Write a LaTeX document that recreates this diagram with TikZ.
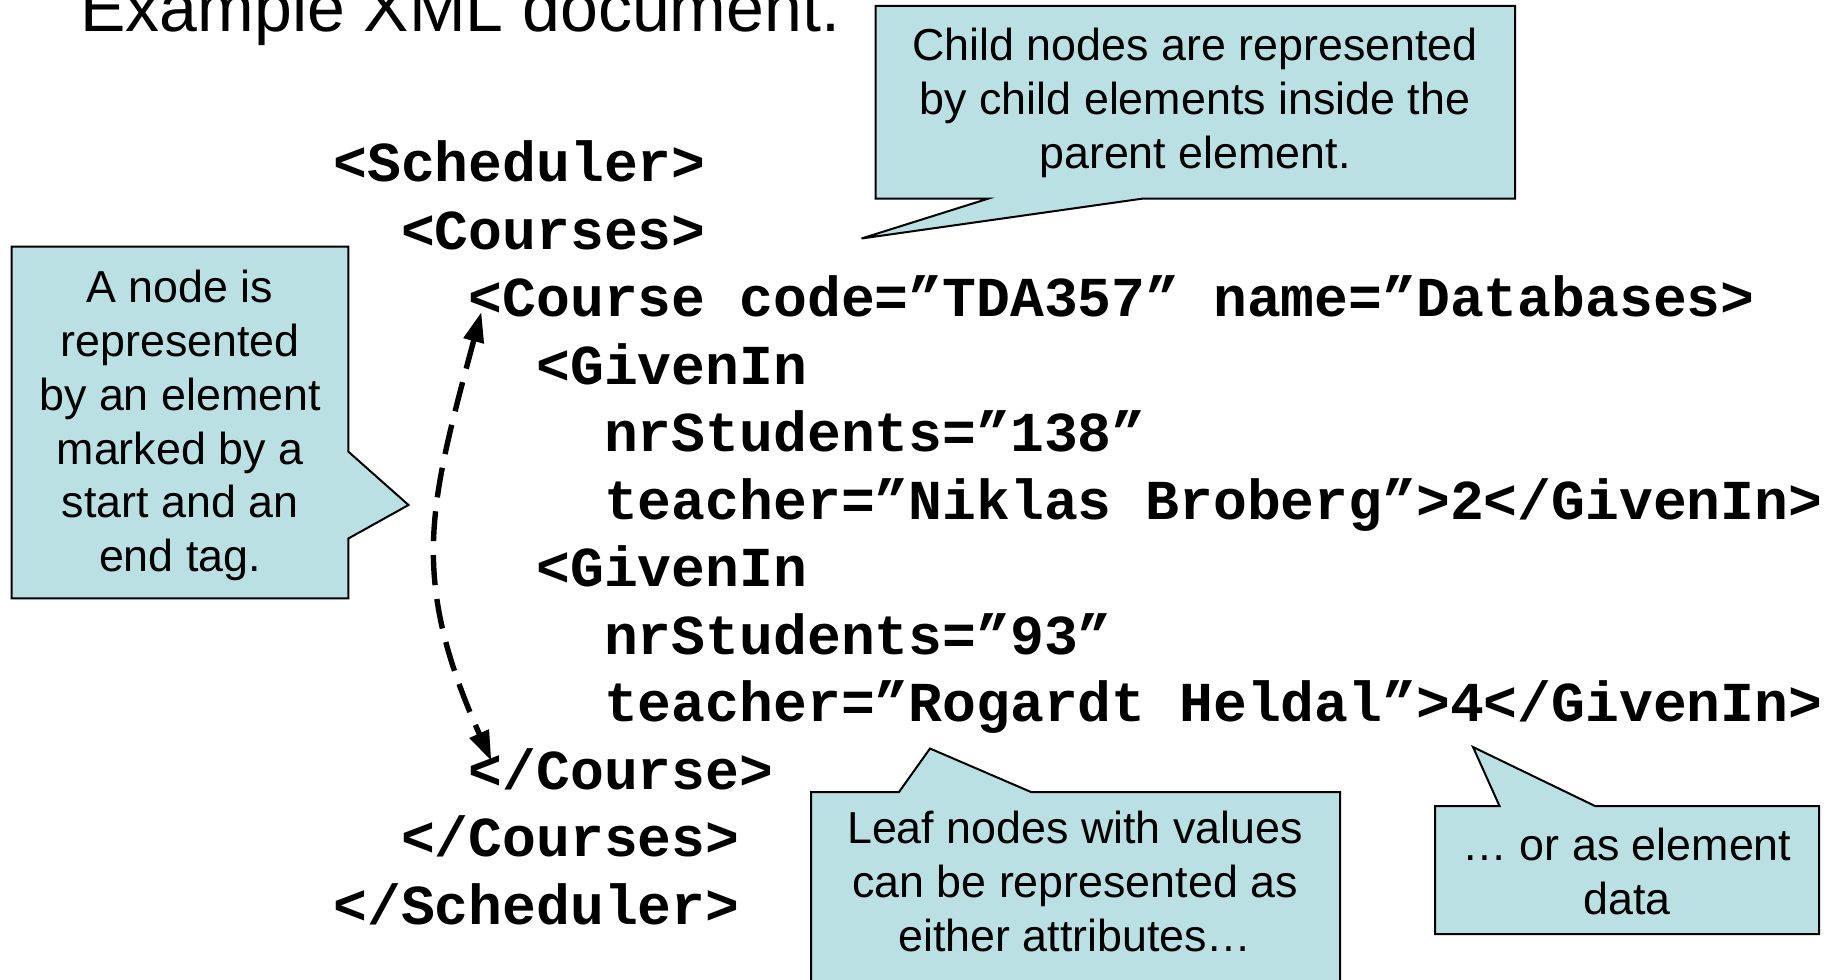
\documentclass[tikz,border=0pt]{standalone}
\usepackage{fontspec}
\setmainfont{Liberation Sans}
\setmonofont{Liberation Mono}
\usetikzlibrary{
    arrows.meta
}

\definecolor{bubblefill}{RGB}{187,224,227}
\newcommand{\xmlfont}{\ttfamily\bfseries\fontsize{28.2}{33.8}\selectfont}
\newcommand{\bubblefont}{\fontsize{22.4}{26.9}\selectfont}
\newcommand{\slidetitlefont}{\fontsize{34}{40}\selectfont}

\begin{document}
\begin{tikzpicture}[
    x=0.5pt, y=-0.5pt,
    xmlline/.style={anchor=base west, inner sep=0, font=\xmlfont},
    bubble/.style={draw=black, line width=1pt, fill=bubblefill, line join=miter},
    bubbletext/.style={anchor=base, align=center, inner sep=0, font=\bubblefont},
    tagarrow/.style={{Triangle[length=15pt,width=10pt]}-{Triangle[length=15pt,width=10pt]},
        line width=2.7pt, dash pattern=on 15pt off 7pt}
]
\clip (0,0) rectangle (1833,980);

% Slide title (cut at the top)
\node[anchor=base west, inner sep=0, font=\slidetitlefont] (title) at (80,31.5) {Example XML document.};

% Callout shapes
\draw[bubble] (875.6,5.8) -- (1515,5.8) -- (1515,198.7) -- (1142,198.7)
    -- (861.5,238.5) -- (988,198.7) -- (875.6,198.7) -- cycle;
\draw[bubble] (11.7,246.7) -- (348.4,246.7) -- (348.4,451.7) -- (408.5,505)
    -- (348.4,538.5) -- (348.4,598.4) -- (11.7,598.4) -- cycle;
\draw[bubble] (811,792) -- (899,792) -- (930,748.5) -- (1031,792)
    -- (1340,792) -- (1340,1000) -- (811,1000) -- cycle;
\draw[bubble] (1435,806) -- (1499.5,806) -- (1473,747) -- (1595,806)
    -- (1819,806) -- (1819,934) -- (1435,934) -- cycle;

% Callout texts (base = last line)
\node[bubbletext] (childtxt) at (1195,168.3) {Child nodes are represented\\by child elements inside the\\parent element.};
\node[bubbletext] (nodetxt) at (180,571.7) {A node is\\represented\\by an element\\marked by a\\start and an\\end tag.};
\node[bubbletext] (leaftxt) at (1075,951) {Leaf nodes with values\\can be represented as\\either attributes…};
\node[bubbletext] (datatxt) at (1627,914) {… or as element\\data};

% XML document, two characters per indent level
\node[xmlline] (sched)    at (333+0*33.84, 181.5+0*67.5)  {<Scheduler>};
\node[xmlline] (courses)  at (333+2*33.84, 181.5+1*67.5)  {<Courses>};
\node[xmlline] (crs)      at (333+4*33.84, 181.5+2*67.5)  {<Course code=”TDA357” name=”Databases>};
\node[xmlline] (given1)   at (333+6*33.84, 181.5+3*67.5)  {<GivenIn};
\node[xmlline] (nr1)      at (333+8*33.84, 181.5+4*67.5)  {nrStudents=”138”};
\node[xmlline] (teach1)   at (333+8*33.84, 181.5+5*67.5)  {teacher=”Niklas Broberg”>2</GivenIn>};
\node[xmlline] (given2)   at (333+6*33.84, 181.5+6*67.5)  {<GivenIn};
\node[xmlline] (nr2)      at (333+8*33.84, 181.5+7*67.5)  {nrStudents=”93”};
\node[xmlline] (teach2)   at (333+8*33.84, 181.5+8*67.5)  {teacher=”Rogardt Heldal”>4</GivenIn>};
\node[xmlline] (crsend)   at (333+4*33.84, 181.5+9*67.5)  {</Course>};
\node[xmlline] (coursesend) at (333+2*33.84, 181.5+10*67.5) {</Courses>};
\node[xmlline] (schedend) at (333+0*33.84, 181.5+11*67.5) {</Scheduler>};

% Start and end tag of one element
\draw[tagarrow] ([shift={(13,-4.5)}]crs.base west) to[out=-105, in=114, looseness=1.15]
    ([shift={(23,-28)}]crsend.base west);
\end{tikzpicture}
\end{document}
